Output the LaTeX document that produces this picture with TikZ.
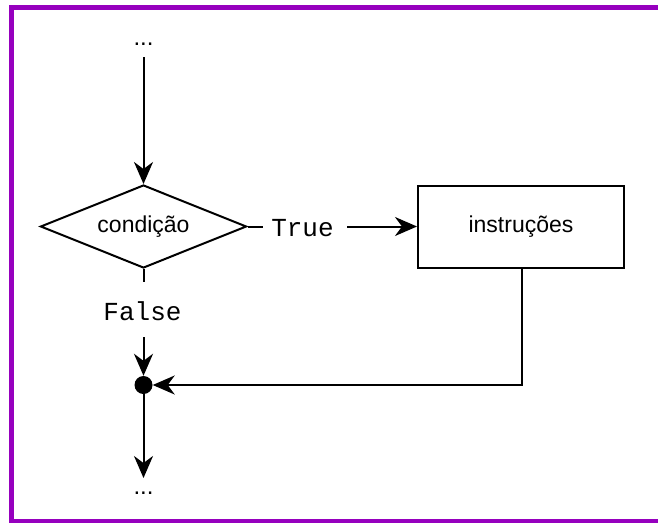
\documentclass[tikz,border=0pt]{standalone}
\usepackage{fontspec}
\setmainfont{Liberation Sans}
\setmonofont{Liberation Mono}
\usetikzlibrary{shapes.geometric,arrows.meta}
\definecolor{framepurple}{RGB}{150,0,190}
\tikzset{
  flowline/.style={line width=2pt, black},
  arr/.style={flowline, -{Stealth[length=22pt,width=19pt,inset=7pt]}},
  monolabel/.style={font=\ttfamily\fontsize{26}{28}\selectfont, inner sep=0pt},
  dotslabel/.style={font=\fontsize{24}{26}\selectfont, inner sep=0pt},
  decision/.style={diamond, draw, flowline, shape aspect=2.5, minimum width=206pt, minimum height=83pt, inner sep=0pt, font=\fontsize{23}{26}\selectfont},
  process/.style={rectangle, draw, flowline, minimum width=206pt, minimum height=82pt, inner sep=0pt, font=\fontsize{23}{26}\selectfont},
  junction/.style={circle, fill=black, minimum size=18pt, inner sep=0pt}
}
\begin{document}
\begin{tikzpicture}[x=1pt,y=-1pt]
  \useasboundingbox (0,0) rectangle (658,522);
  \clip (0,0) rectangle (658,522);
  \fill[white] (0,0) rectangle (658,522);
  \draw[framepurple, line width=5pt] (11,7.5) rectangle (670,521.5);

  \node[dotslabel] (dtop) at (143.5,44) {...};
  \coordinate (topstart) at (143.5,57);
  \node[decision] (cond) at (143.5,226.5) {condição};
  \node[monolabel] (true) at (302.5,228) {True};
  \coordinate (truestub) at (263,226.5);
  \node[process] (box) at (521,226.5) {instruções};
  \coordinate (truestart) at (347,226.5);
  \coordinate (fstub) at (143.5,282);
  \node[monolabel] (false) at (142.5,311) {False};
  \coordinate (fstart) at (143.5,337);
  \node[junction] (dot) at (143.5,385) {};
  \coordinate (corner) at (521.5,385);
  \coordinate (bottomend) at (143.5,478);
  \node[dotslabel] (dbot) at (143.5,493) {...};

  \draw[arr] (topstart) -- (cond.north);
  \draw[flowline] (cond.east) -- (truestub);
  \draw[arr] (truestart) -- (box.west);
  \draw[flowline] (cond.south) -- (fstub);
  \draw[arr] (fstart) -- (dot.north);
  \draw[arr] (box.south -| corner) -- (corner) -- (dot.east);
  \draw[arr] (dot.south) -- (bottomend);
\end{tikzpicture}
\end{document}
